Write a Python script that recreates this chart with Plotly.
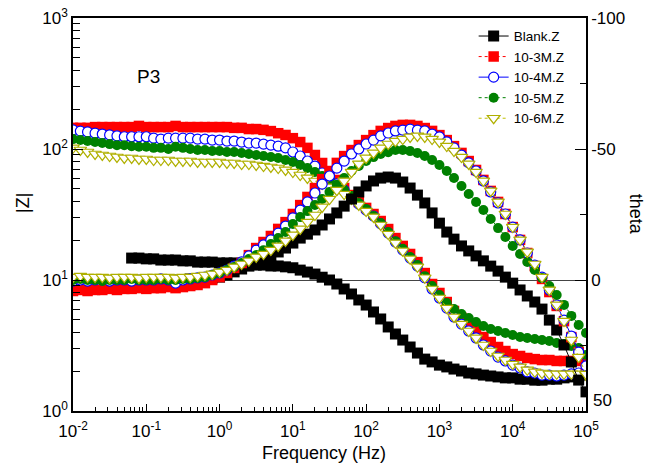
import plotly.graph_objects as go

# Frequencies (Hz), 10 points per decade
freq = [0.01, 0.0126, 0.0158, 0.02, 0.0251, 0.0316, 0.0398, 0.0501, 0.0631, 0.0794,
        0.1, 0.126, 0.158, 0.2, 0.251, 0.316, 0.398, 0.501, 0.631, 0.794,
        1, 1.26, 1.58, 2, 2.51, 3.16, 3.98, 5.01, 6.31, 7.94,
        10, 12.6, 15.8, 20, 25.1, 31.6, 39.8, 50.1, 63.1, 79.4,
        100, 126, 158, 200, 251, 316, 398, 501, 631, 794,
        1000, 1260, 1580, 2000, 2510, 3160, 3980, 5010, 6310, 7940,
        10000, 12600, 15800, 20000, 25100, 31600, 39800, 50100, 63100, 79400, 100000]
blank_freq = freq[8:]

# |Z| values
black_z = [14.7, 14.7, 14.5, 14.5, 14.2, 14.2, 14.2, 14.0, 14.0, 13.7, 13.7, 13.7,
           13.5, 13.5, 13.5, 13.2, 13.2, 13.0, 13.0, 12.8, 12.8, 12.6, 12.4,
           11.9, 11.5, 11.1, 10.5, 10.0, 9.32, 8.54, 7.82, 7.04, 6.44,
           5.70, 5.04, 4.38, 3.87, 3.48, 3.08, 2.77, 2.49, 2.37, 2.24,
           2.17, 2.09, 2.02, 1.95, 1.92, 1.88, 1.85, 1.82, 1.79, 1.79,
           1.75, 1.75, 1.72, 1.72, 1.75, 1.75, 1.79, 1.82, 1.85, 1.88]
red_z = [145, 145, 145, 147, 147, 147, 147, 147, 147, 150, 147,
         147, 147, 147, 150, 147, 147, 147, 147, 147, 147,
         147, 145, 145, 142, 142, 140, 137, 132, 128, 121,
         113, 102, 90.0, 78.2, 66.7, 58.0, 50.4, 44.5, 39.4, 35.5,
         31.9, 28.2, 24.5, 20.9, 18.2, 15.8, 13.7, 11.3, 9.32, 7.96,
         6.79, 5.80, 5.13, 4.53, 4.08, 3.67, 3.36, 3.08, 2.87, 2.72,
         2.63, 2.54, 2.49, 2.45, 2.45, 2.41, 2.41, 2.41, 2.41, 2.37]
blue_z = [140, 137, 135, 132, 130, 128, 126, 124, 124, 124, 124,
          121, 119, 121, 121, 121, 121, 119, 119, 117, 117,
          115, 115, 113, 111, 111, 109, 107, 105, 102, 94.9,
          88.4, 81.0, 74.1, 65.6, 60.1, 54.1, 48.7, 43.0, 38.0, 34.2,
          30.8, 26.8, 22.8, 19.5, 16.9, 14.7, 12.8, 10.4, 8.54, 7.29,
          6.11, 5.22, 4.61, 4.08, 3.61, 3.19, 2.87, 2.58, 2.41, 2.24,
          2.13, 1.99, 1.95, 1.88, 1.88, 1.85, 1.88, 1.92, 1.95, 2.02]
green_z = [119, 117, 115, 113, 111, 109, 107, 107, 105, 104, 104,
           102, 102, 100, 104, 102, 100, 98.3, 98.3, 96.6, 96.6,
           94.9, 94.9, 93.2, 91.6, 90.0, 88.4, 86.9, 85.4, 82.4, 79.6,
           75.5, 71.6, 66.7, 62.2, 58.0, 53.1, 48.7, 43.8, 38.7, 34.8,
           30.8, 27.2, 23.2, 19.8, 17.3, 15.0, 13.0, 10.7, 9.00, 7.68,
           6.67, 6.01, 5.50, 5.13, 4.78, 4.45, 4.22, 4.08, 3.94, 3.80,
           3.67, 3.61, 3.55, 3.48, 3.42, 3.30, 3.25, 3.13, 3.03, 2.68]
yellow_z = [102, 98.3, 94.9, 91.6, 90.0, 88.4, 86.9, 85.4, 85.4, 83.9, 83.9,
            82.4, 82.4, 82.4, 81.0, 81.0, 81.0, 79.6, 79.6, 79.6, 79.6,
            78.2, 78.2, 76.8, 76.8, 75.5, 74.1, 72.9, 71.6, 69.2, 66.7,
            63.3, 60.1, 57.0, 54.1, 51.3, 48.7, 45.3, 41.5, 37.4, 33.6,
            30.3, 26.3, 22.4, 19.2, 16.7, 14.5, 12.6, 10.4, 8.54, 7.29,
            6.11, 5.22, 4.61, 4.08, 3.61, 3.19, 2.87, 2.63, 2.45, 2.28,
            2.17, 2.06, 1.99, 1.95, 1.92, 1.92, 1.92, 1.92, 1.92, 1.88]

# theta values (degrees)
black_t = [0.4, 0.4, 0.4, 0.4, 0.0, 0.0, 0.0, 0.0, -0.4, -0.4, -0.8, -0.8,
           -1.1, -1.9, -3.1, -4.2, -5.3, -6.1, -7.3, -8.8, -10.7, -12.2, -14.1,
           -16.0, -17.5, -19.1, -21.0, -23.3, -25.6, -28.2, -30.9, -33.6, -35.9,
           -37.8, -38.9, -39.3, -38.9, -37.4, -35.1, -32.4, -29.4, -25.6, -21.7,
           -18.3, -15.6, -13.0, -11.1, -9.2, -7.3, -5.3, -3.4, -1.1, 1.2,
           3.8, 6.1, 8.4, 11.1, 15.3, 19.1, 24.8, 31.3, 38.2, 42.7]
red_t = [4.2, 3.8, 4.2, 3.8, 3.8, 3.4, 3.8, 3.4, 3.4, 3.1, 3.4,
         3.1, 3.1, 2.7, 3.1, 2.7, 2.3, 1.9, 1.2, 0.0, -1.1,
         -2.7, -4.6, -6.5, -9.5, -12.2, -14.5, -16.8, -19.5, -22.1, -25.2,
         -28.6, -31.7, -35.1, -38.5, -41.6, -44.7, -47.3, -49.6, -51.5, -53.4,
         -55.3, -56.9, -58.0, -58.8, -59.2, -59.2, -58.8, -58.0, -56.9, -55.3,
         -53.4, -51.1, -48.5, -45.4, -42.0, -38.2, -34.0, -29.8, -25.2, -20.2,
         -15.3, -10.3, -5.3, -0.4, 4.6, 9.9, 15.7, 21.8, 27.5, 32.4]
blue_t = [0.4, 0.0, 0.4, 0.0, 0.0, 0.4, 0.0, 0.0, 0.4, 0.0, 0.0,
          0.0, -0.4, 0.0, 1.2, 0.0, -0.4, -0.8, -1.1, -1.9, -2.7,
          -3.8, -5.3, -6.9, -9.2, -11.4, -13.4, -15.3, -17.9, -20.6, -23.7,
          -26.7, -29.8, -33.2, -36.6, -39.7, -42.7, -45.4, -48.1, -50.0, -51.9,
          -53.4, -55.0, -56.1, -56.9, -57.2, -57.6, -57.2, -56.9, -55.7, -54.6,
          -52.7, -50.4, -47.7, -44.7, -41.6, -37.8, -33.6, -29.4, -25.2, -20.2,
          -15.3, -10.3, -5.7, -1.1, 3.8, 9.5, 15.3, 21.4, 27.5, 32.8]
green_t = [0.0, -0.4, 0.0, 0.0, 0.4, 0.0, 0.0, 0.0, -0.4, 0.0, 0.0,
           0.0, -0.4, 0.0, 0.0, -0.4, -0.4, -0.8, -1.1, -1.9, -2.7,
           -3.8, -5.0, -6.5, -8.0, -9.5, -11.4, -13.7, -16.0, -18.3, -21.4,
           -24.0, -26.3, -28.6, -30.9, -33.6, -36.3, -38.9, -41.6, -43.5, -45.4,
           -46.9, -48.1, -48.8, -49.6, -49.6, -49.2, -48.5, -47.3, -45.8, -43.9,
           -41.6, -38.9, -35.9, -32.8, -29.8, -26.7, -23.3, -19.8, -16.4, -13.0,
           -9.9, -6.9, -3.8, -0.8, 2.3, 5.7, 9.5, 13.7, 17.2, 20.2]
yellow_t = [-1.1, -1.5, -1.1, -1.1, -1.1, -0.8, -1.1, -1.1, -1.1, -0.8, -1.1,
            -1.1, -1.1, -1.1, -0.8, -1.1, -1.1, -1.5, -1.9, -2.3, -3.1,
            -3.8, -5.0, -6.1, -7.3, -8.8, -9.9, -11.4, -13.0, -14.9, -17.2,
            -19.5, -22.1, -24.8, -27.9, -30.9, -34.3, -37.8, -41.2, -44.3, -46.6,
            -48.5, -50.4, -51.9, -53.0, -53.8, -54.6, -55.0, -54.6, -53.8, -52.7,
            -51.1, -49.2, -46.9, -44.3, -41.2, -37.8, -34.0, -29.8, -25.2, -20.2,
            -15.3, -10.7, -6.1, -1.1, 3.8, 9.5, 15.7, 22.9, 29.4, 35.9]

names = ["Blank.Z", "10-3M.Z", "10-4M.Z", "10-5M.Z", "10-6M.Z"]
x_tick_vals = [0.01, 0.1, 1, 10, 100, 1000, 10000, 100000]
x_tick_text = ["10<sup>-2</sup>", "10<sup>-1</sup>", "10<sup>0</sup>", "10<sup>1</sup>",
               "10<sup>2</sup>", "10<sup>3</sup>", "10<sup>4</sup>", "10<sup>5</sup>"]
y_tick_vals = [1, 10, 100, 1000]
y_tick_text = ["10<sup>0</sup>", "10<sup>1</sup>", "10<sup>2</sup>", "10<sup>3</sup>"]
t_tick_vals = [-100, -50, 0, 50]
t_tick_text = ["-100", "-50", "0", ""]
t_bottom_label = "50"

styles = [
    dict(marker=dict(symbol="square", size=11, color="black"),
         line=dict(color="black", width=1, dash="solid")),
    dict(marker=dict(symbol="square", size=10.5, color="#ff0000"),
         line=dict(color="#ff0000", width=1, dash="dot")),
    dict(marker=dict(symbol="circle", size=10, color="white", line=dict(color="#0000ff", width=1.2)),
         line=dict(color="#0000ff", width=1, dash="solid")),
    dict(marker=dict(symbol="circle", size=10, color="#008000"),
         line=dict(color="#008000", width=1, dash="dot")),
    dict(marker=dict(symbol="triangle-down", size=11, color="white", line=dict(color="#b0b000", width=1.2)),
         line=dict(color="#c0c000", width=1, dash="dot")),
]
xs = [blank_freq, freq, freq, freq, freq]
zs = [black_z, red_z, blue_z, green_z, yellow_z]
ts = [black_t, red_t, blue_t, green_t, yellow_t]

fig = go.Figure()
for name, x, z, st in zip(names, xs, zs, styles):
    fig.add_trace(go.Scatter(x=x, y=z, mode="lines+markers", name=name, legendgroup=name,
                             marker=st["marker"], line=st["line"], yaxis="y"))
for name, x, t, st in zip(names, xs, ts, styles):
    fig.add_trace(go.Scatter(x=x, y=t, mode="lines+markers", name=name, legendgroup=name,
                             showlegend=False, marker=st["marker"], line=st["line"], yaxis="y2"))

tickfont = dict(family="Liberation Sans, Arial, sans-serif", size=17, color="black")
fig.update_layout(
    template="none",
    width=646, height=463,
    margin=dict(l=73, r=60, t=18, b=52, pad=0),
    paper_bgcolor="white", plot_bgcolor="white",
    font=dict(family="Liberation Sans, Arial, sans-serif", size=17, color="black"),
    showlegend=True,
    legend=dict(x=0.781, y=0.993, xanchor="left", yanchor="top", bgcolor="rgba(0,0,0,0)",
                borderwidth=0, font=dict(size=13.5, color="black"), tracegroupgap=0),
    xaxis=dict(type="log", range=[-2, 5], tickvals=x_tick_vals, ticktext=x_tick_text,
               ticks="inside", ticklen=7, tickwidth=1, tickcolor="black",
               minor=dict(ticks="inside", ticklen=4, dtick="D1", tickcolor="black", showgrid=False),
               showline=True, linecolor="black", linewidth=1.5, mirror=True,
               showgrid=False, zeroline=False, tickfont=tickfont, automargin=False,
               ticklabelstandoff=4),
    yaxis=dict(type="log", range=[0, 3], tickvals=y_tick_vals, ticktext=y_tick_text,
               ticks="inside", ticklen=10, tickwidth=1, tickcolor="black",
               minor=dict(ticks="inside", ticklen=7, dtick="D1", tickcolor="black", showgrid=False),
               showline=True, linecolor="black", linewidth=1.5,
               showgrid=False, zeroline=False, tickfont=tickfont, automargin=False),
    yaxis2=dict(overlaying="y", side="right", range=[50, -100], tickvals=t_tick_vals,
                ticktext=t_tick_text, ticks="inside", ticklen=11, tickwidth=1, tickcolor="black",
                minor=dict(ticks="inside", ticklen=6, dtick=25, tickcolor="black", showgrid=False),
                showline=True, linecolor="black", linewidth=1.5,
                showgrid=False, zeroline=True, zerolinecolor="#444444", zerolinewidth=1,
                tickfont=tickfont, automargin=False),
    annotations=[
        dict(text="P3", x=0.148, y=0.852, xref="paper", yref="paper", showarrow=False,
             font=dict(size=19), xanchor="center", yanchor="middle"),
        dict(text="Frequency (Hz)", x=0.49, y=-0.107, xref="paper", yref="paper", showarrow=False,
             font=dict(size=18), xanchor="center", yanchor="middle"),
        dict(text="|Z|", x=-0.099, y=0.53, xref="paper", yref="paper", showarrow=False,
             font=dict(size=18), textangle=-90, xanchor="center", yanchor="middle"),
        dict(text="theta", x=1.099, y=0.5, xref="paper", yref="paper", showarrow=False,
             font=dict(size=18), textangle=90, xanchor="center", yanchor="middle"),
        dict(text=t_bottom_label, x=1.0, y=t_tick_vals[-1], xref="paper", yref="y2",
             showarrow=False, font=tickfont, xanchor="left", yanchor="middle",
             xshift=5, yshift=11),
    ],
)

fig.write_html("out.html")
